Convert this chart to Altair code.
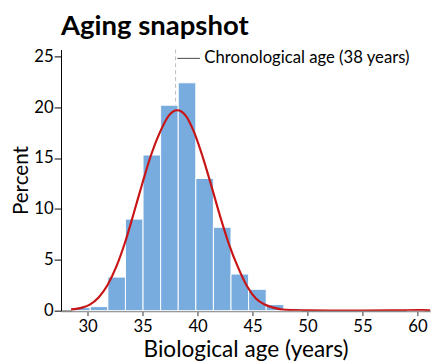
import altair as alt
import pandas as pd

# Histogram bins (years) and their share (percent)
bin_lo = [28.64, 30.24, 31.84, 33.44, 35.04, 36.64, 38.24, 39.84, 41.44, 43.04, 44.64, 46.24, 47.84, 59.04]
bin_hi = [30.24, 31.84, 33.44, 35.04, 36.64, 38.24, 39.84, 41.44, 43.04, 44.64, 46.24, 47.84, 49.44, 60.64]
percent = [0.3, 0.4, 3.3, 9.0, 15.3, 20.2, 22.4, 13.0, 8.2, 3.6, 2.1, 0.6, 0.2, 0.1]

# Fitted density curve
curve_age = [28.5, 29.5, 30.2, 31.0, 31.8, 32.6, 33.4, 34.2, 35.0, 35.8, 36.6, 37.4, 38.15,
             38.9, 39.7, 40.5, 41.3, 42.1, 42.9, 43.7, 44.5, 45.3, 46.1, 46.9, 47.7,
             48.6, 50.0, 52.0, 55.0, 58.0, 60.0, 61.15]
curve_pct = [0.12, 0.3, 0.6, 1.3, 2.5, 4.3, 6.7, 9.6, 12.6, 15.4, 17.6, 19.2, 19.7,
             19.2, 17.5, 15.0, 12.1, 9.1, 6.4, 4.2, 2.4, 1.2, 0.6, 0.3, 0.12,
             0.06, 0.03, 0.02, 0.02, 0.03, 0.05, 0.04]

chron_age = [38]
chron_label = ["Chronological age (38 years)"]

x_ticks = [30, 35, 40, 45, 50, 55, 60]
y_ticks = [0, 5, 10, 15, 20, 25]

bars_df = pd.DataFrame({"lo": bin_lo, "hi": bin_hi, "pct": percent})
curve_df = pd.DataFrame({"age": curve_age, "pct": curve_pct})
rule_df = pd.DataFrame({"age": chron_age, "label": chron_label})

FONT = "Lato"
xscale = alt.Scale(domain=[27.58, 61.15], nice=False, zero=False)
yscale = alt.Scale(domain=[0, 25.67], nice=False)

xaxis = alt.Axis(values=x_ticks, title="Biological age (years)", grid=False,
                 domainColor="#888888", domainWidth=2, tickColor="#333333", tickSize=5,
                 labelFontSize=17, titleFontSize=23, labelPadding=3, titlePadding=5,
                 labelFont=FONT, titleFont=FONT, titleFontWeight="normal",
                 labelColor="black", titleColor="black")
yaxis = alt.Axis(values=y_ticks, title="Percent", grid=False,
                 domainColor="black", domainWidth=1, tickColor="black", tickSize=7,
                 labelFontSize=17, titleFontSize=21, labelPadding=1, titlePadding=2,
                 labelFont=FONT, titleFont=FONT, titleFontWeight="normal",
                 labelColor="black", titleColor="black")

rule = alt.Chart(rule_df).mark_rule(strokeDash=[4, 3], strokeWidth=1, color="#bbbbbb").encode(
    x=alt.X("age:Q", scale=xscale, axis=xaxis),
)

bars = alt.Chart(bars_df).mark_rect(color="#78acdf", stroke="white", strokeWidth=1).encode(
    x=alt.X("lo:Q", scale=xscale, axis=xaxis),
    x2="hi:Q",
    y=alt.Y("pct:Q", scale=yscale, axis=yaxis),
    y2=alt.datum(0),
)

curve = alt.Chart(curve_df).mark_line(color="#c81414", strokeWidth=2.2, interpolate="monotone", clip=True).encode(
    x=alt.X("age:Q", scale=xscale, axis=xaxis),
    y=alt.Y("pct:Q", scale=yscale, axis=yaxis),
)

legend_layer = alt.Chart(rule_df).mark_rule(strokeWidth=1, strokeOpacity=0).encode(
    x=alt.X("age:Q", scale=xscale, axis=xaxis),
    color=alt.Color("label:N", scale=alt.Scale(range=["#444444"]),
                    legend=alt.Legend(title=None, orient="none", legendX=118, legendY=-3,
                                      symbolType="stroke", symbolSize=529, symbolStrokeWidth=1,
                                      symbolOpacity=1, labelFontSize=17, labelFont=FONT,
                                      labelColor="black", labelOffset=4, padding=0,
                                      labelLimit=400)),
)

chart = alt.layer(rule, bars, curve, legend_layer).properties(
    width=376, height=266,
    autosize=alt.AutoSizeParams(type="none"),
    padding={"left": 54, "top": 39, "right": 8, "bottom": 50},
    title=alt.TitleParams("Aging snapshot", anchor="start", frame="group", fontSize=28, font=FONT,
                          fontWeight="bold", offset=6, color="black"),
).configure_view(stroke=None)

chart.save("out.html", embed_options={"renderer": "svg", "actions": False})
